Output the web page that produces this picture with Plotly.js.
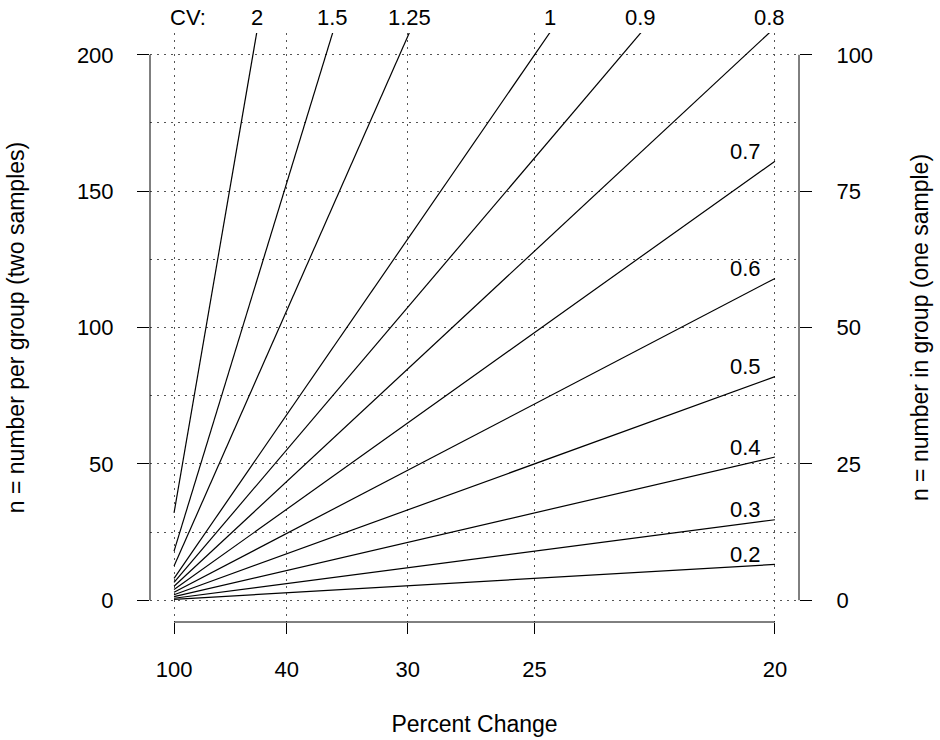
<!DOCTYPE html>
<html>
<head>
<meta charset="utf-8">
<script src="https://cdn.plot.ly/plotly-3.0.1.min.js"></script>
<style>html,body{margin:0;padding:0;background:#fff;}#chart{width:940px;height:740px;}</style>
</head>
<body>
<div id="chart"></div>
<script>
// ---- data ----
const percentTicks = [100, 40, 30, 25, 20];           // x tick labels (percent change)
const lineEndPercents = [100, 20];                     // each CV line runs from 100% to 20%
const cvValues = [2, 1.5, 1.25, 1, 0.9, 0.8, 0.7, 0.6, 0.5, 0.4, 0.3, 0.2];
const cvLabels = ['2', '1.5', '1.25', '1', '0.9', '0.8', '0.7', '0.6', '0.5', '0.4', '0.3', '0.2'];
const nAt100 = [32, 18, 12.5, 8, 6.5, 5.1, 3.9, 2.9, 2, 1.3, 0.7, 0.3];      // n at 100% change
const nAt20  = [1312, 738, 512, 328, 266, 210, 161, 118, 82, 52.5, 29.5, 13.1]; // n at 20% change
const yLeftTicks = [0, 50, 100, 150, 200];
const yRightTicks = [0, 25, 50, 75, 100];
const yGridStep = 25;

// x scale of the figure: (1 + (1 - PC)^2) / PC^2
function pctScale(p) { const f = p / 100; return (1 + (1 - f) * (1 - f)) / (f * f); }

const xLo = pctScale(percentTicks[0]), xHi = pctScale(percentTicks[percentTicks.length - 1]);
const xPad = 0.04 * (xHi - xLo);
const yMax = yLeftTicks[yLeftTicks.length - 1];
const yPad = 0.04 * yMax;
const yTop = yMax + yPad;

const traces = cvValues.map((cv, i) => ({
  type: 'scatter', mode: 'lines',
  x: lineEndPercents.map(pctScale),
  y: [nAt100[i], nAt20[i]],
  line: {color: '#000', width: 1.2},
  name: 'CV ' + cvLabels[i], showlegend: false, hoverinfo: 'skip'
}));
// invisible trace so the right axis is attached
traces.push({type: 'scatter', mode: 'lines', x: [null], y: [null], yaxis: 'y2', showlegend: false, hoverinfo: 'skip'});

const font = {family: '"Liberation Sans", Arial, Helvetica, sans-serif', size: 22, color: '#000'};
const titleFont = {family: '"Liberation Sans", Arial, Helvetica, sans-serif', size: 23, color: '#000'};

const annotations = [];
annotations.push({xref: 'paper', yref: 'paper', x: 0.058, y: 1, xanchor: 'center', yanchor: 'middle', yshift: 16,
  text: 'CV:', showarrow: false, font: font});
cvValues.forEach((cv, i) => {
  const x0 = pctScale(lineEndPercents[0]), x1 = pctScale(lineEndPercents[1]);
  if (nAt20[i] > yTop) {
    const xe = x0 + (yTop - nAt100[i]) / (nAt20[i] - nAt100[i]) * (x1 - x0);
    annotations.push({xref: 'x', yref: 'paper', x: xe, y: 1, xanchor: 'center', yanchor: 'middle', yshift: 16,
      text: cvLabels[i], showarrow: false, font: font});
  } else {
    annotations.push({xref: 'x', yref: 'y', x: x1, y: nAt20[i], xanchor: 'right', xshift: -12,
      yanchor: 'middle', yshift: 10, text: cvLabels[i], showarrow: false, font: font});
  }
});

const axisLine = {color: '#000', width: 1};
const shapes = [
  {type: 'line', xref: 'paper', yref: 'y', x0: 0, x1: 0, y0: yLeftTicks[0], y1: yMax, line: axisLine},
  {type: 'line', xref: 'paper', yref: 'y', x0: 1, x1: 1, y0: yLeftTicks[0], y1: yMax, line: axisLine},
  {type: 'line', xref: 'x', yref: 'paper', x0: xLo, x1: xHi, y0: 0, y1: 0, line: axisLine}
];

const gridColor = '#555';
const gridDash = '1.5px,5.5px';

const layout = {
  width: 940, height: 740,
  margin: {l: 150, r: 141, t: 33, b: 118},
  paper_bgcolor: '#fff', plot_bgcolor: '#fff',
  font: font,
  xaxis: {
    range: [xLo - xPad, xHi + xPad],
    tickmode: 'array', tickvals: percentTicks.map(pctScale), ticktext: percentTicks.map(String),
    ticks: 'outside', ticklen: 11, tickwidth: 1, tickcolor: '#000', ticklabelstandoff: 17,
    showline: false, zeroline: false,
    showgrid: true, gridcolor: gridColor, griddash: gridDash, gridwidth: 1,
    title: {text: 'Percent Change', font: titleFont, standoff: 34},
    automargin: false, tickfont: font
  },
  yaxis: {
    range: [-yPad, yTop],
    tickmode: 'array', tickvals: yLeftTicks, ticktext: yLeftTicks.map(String),
    ticks: 'outside', ticklen: 12, tickwidth: 1, tickcolor: '#000', ticklabelstandoff: 19,
    showline: false, zeroline: false,
    showgrid: true, gridcolor: gridColor, griddash: gridDash, gridwidth: 1,
    minor: {dtick: yGridStep, tick0: 0, showgrid: true, gridcolor: gridColor, griddash: gridDash, gridwidth: 1, ticks: ''},
    title: {text: 'n = number per group (two samples)', font: titleFont, standoff: 45},
    automargin: false, tickfont: font
  },
  yaxis2: {
    overlaying: 'y', side: 'right',
    range: [-yPad / 2, yTop / 2],
    tickmode: 'array', tickvals: yRightTicks, ticktext: yRightTicks.map(String),
    ticks: 'outside', ticklen: 12, tickwidth: 1, tickcolor: '#000', ticklabelstandoff: 20,
    showline: false, zeroline: false, showgrid: false,
    title: {text: 'n = number in group (one sample)', font: titleFont, standoff: 39},
    automargin: false, tickfont: font
  },
  shapes: shapes,
  annotations: annotations
};

Plotly.newPlot('chart', traces, layout, {displayModeBar: false, staticPlot: true});
</script>
</body>
</html>
